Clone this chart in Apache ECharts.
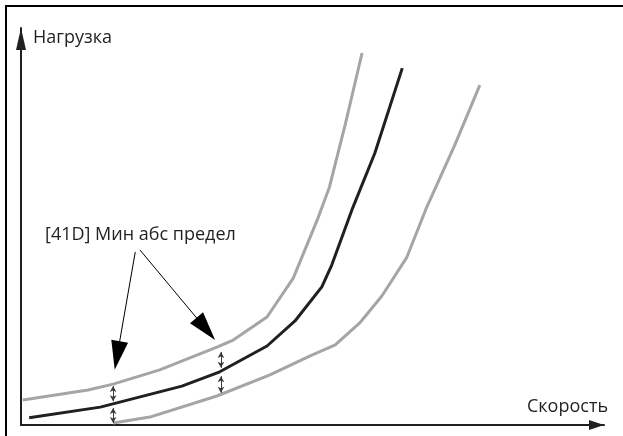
<!DOCTYPE html>
<html>
<head>
<meta charset="utf-8">
<script src="https://cdn.jsdelivr.net/npm/echarts@6/dist/echarts.min.js"></script>
<style>html,body{margin:0;padding:0;background:#fff}#c{width:623px;height:436px}</style>
</head>
<body>
<div id="c"></div>
<script>
// Curves: [speed, load] in arbitrary 0..100 units
var upperLimit = [[0.3,6.3],[11.5,8.8],[15.8,10.3],[23.8,13.9],[33.6,19.6],[36.4,21.4],[42.2,27.2],[46.7,37.0],[50.8,51.6],[52.9,59.9],[55.6,75.6],[58.5,93.7]];
var loadCurve = [[1.4,1.8],[13.6,4.5],[27.6,9.8],[34.1,13.4],[42.2,19.9],[47.0,26.2],[51.6,34.8],[53.3,40.3],[56.9,54.7],[60.7,68.5],[65.4,89.9]];
var lowerLimit = [[15.8,0.5],[22.1,2.0],[33.6,7.3],[42.7,12.6],[49.6,17.4],[53.9,20.2],[58.1,25.7],[61.9,32.5],[66.2,42.3],[69.6,54.9],[74.4,70.5],[78.7,85.6]];
// Gap markers (double arrows) at two speeds: [x, yFrom, yTo]
var gapMarks = [[15.8,9.8,6.0],[15.8,4.3,0.5],[34.3,18.4,14.4],[34.3,12.3,8.1]];
// Annotation pointers: [xFrom, yFrom, xTo, yTo]
var pointers = [[19.6,43.6,16.5,17.5],[20.4,44.1,31.7,24.2]];
var annotationText = '[41D] Мин абс предел';
var xName = 'Скорость';
var yName = 'Нагрузка';

var GRAY = '#a1a6ab', DARK = '#231f20';
var chart = echarts.init(document.getElementById('c'), null, {renderer:'canvas'});
chart.setOption({
  animation: false,
  grid: {left: 21, right: 19, top: 28, bottom: 11, containLabel: false},
  xAxis: {
    type: 'value', min: 0, max: 100,
    name: xName, nameLocation: 'end', nameGap: 4,
    nameTextStyle: {fontFamily: 'Open Sans', fontSize: 18, color: DARK, align: 'right', verticalAlign: 'bottom', padding: [0,0,9,0]},
    axisLine: {show: true, symbol: ['none','triangle'], symbolSize: [10,15], symbolOffset: [0,-7.5], lineStyle: {color: DARK, width: 2}},
    axisTick: {show: false}, axisLabel: {show: false}, splitLine: {show: false}
  },
  yAxis: {
    type: 'value', min: 0, max: 100,
    name: yName, nameLocation: 'end', nameGap: -10,
    nameTextStyle: {fontFamily: 'Open Sans', fontSize: 18, color: DARK, align: 'left', verticalAlign: 'middle', padding: [0,0,0,12]},
    axisLine: {show: true, symbol: ['none','triangle'], symbolSize: [10,22], symbolOffset: [0,-11], lineStyle: {color: DARK, width: 2}},
    axisTick: {show: false}, axisLabel: {show: false}, splitLine: {show: false}
  },
  graphic: [
    {type: 'rect', shape: {x: 6, y: 6, width: 630, height: 440}, style: {fill: 'none', stroke: '#000', lineWidth: 2}, silent: true},
    {type: 'text', left: 45, top: 226, style: {text: annotationText, font: '18px "Open Sans"', fill: DARK}, silent: true}
  ],
  series: [
    {type: 'line', data: upperLimit, showSymbol: false, lineStyle: {color: GRAY, width: 3}, silent: true,
     markLine: {silent: true, symbol: ['arrow','arrow'], symbolSize: [5,6], label: {show: false}, lineStyle: {color: '#3a3a3a', width: 1, type: 'solid'},
       data: gapMarks.map(function(g){ return [{coord: [g[0], g[1]]}, {coord: [g[0], g[2]]}]; })}},
    {type: 'line', data: loadCurve, showSymbol: false, lineStyle: {color: DARK, width: 3}, silent: true,
     markLine: {silent: true, symbol: ['none','triangle'], symbolSize: [17,29], label: {show: false}, lineStyle: {color: '#000', width: 1, type: 'solid'}, itemStyle: {color: '#000'},
       data: pointers.map(function(p){ return [{coord: [p[0], p[1]]}, {coord: [p[2], p[3]]}]; })}},
    {type: 'line', data: lowerLimit, showSymbol: false, lineStyle: {color: GRAY, width: 3}, silent: true}
  ]
});
</script>
</body>
</html>
